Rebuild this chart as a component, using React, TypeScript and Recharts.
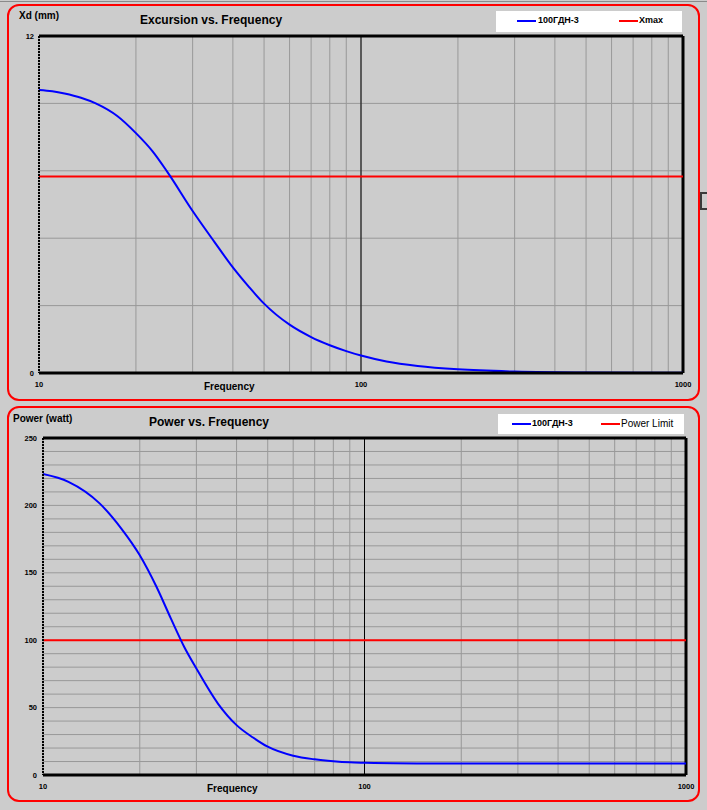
import { LineChart, Line, XAxis, YAxis, CartesianGrid, ReferenceLine } from "recharts";

// Excursion vs. Frequency
const excFreq = [10, 11, 12, 13.5, 15, 17.5, 20, 22.5, 25, 30, 35, 40, 45, 50, 60, 70, 80, 90, 100, 120, 150, 200, 300, 500, 1000];
const excursion = [10.08, 10.03, 9.95, 9.8, 9.6, 9.15, 8.54, 7.9, 7.17, 5.77, 4.68, 3.76, 3.05, 2.47, 1.72, 1.28, 0.99, 0.78, 0.62, 0.41, 0.25, 0.13, 0.05, 0.015, 0.005];
const xmaxFreq = [10, 1000];
const xmax = [7, 7];

// Power vs. Frequency
const powFreq = [10, 12, 15, 17.5, 20, 22.5, 25, 27.5, 30, 35, 40, 45, 50, 60, 70, 80, 90, 100, 150, 200, 300, 500, 1000];
const power = [223.3, 217.5, 201.5, 183, 163, 140, 116, 95, 79, 53, 37, 27.8, 21, 14.3, 11.6, 10.2, 9.4, 9.1, 8.6, 8.5, 8.5, 8.5, 8.5];
const limitFreq = [10, 1000];
const powerLimit = [100, 100];

// axes
const freqTicks = [10, 20, 30, 40, 50, 60, 70, 80, 90, 100, 200, 300, 400, 500, 600, 700, 800, 900, 1000];
const freqLabels = [10, 100, 1000];
const excTicks = [0, 2.4, 4.8, 7.2, 9.6, 12];
const excLabels = [0, 12];
const powTicks = [0, 10, 20, 30, 40, 50, 60, 70, 80, 90, 100, 110, 120, 130, 140, 150, 160, 170, 180, 190, 200, 210, 220, 230, 240, 250];
const powLabels = [0, 50, 100, 150, 200, 250];

const speaker = "100ГДН-3";

const toRows = (f: number[], v: number[]) => f.map((x, i) => ({ f: x, v: v[i] }));

const FONT = "'Liberation Sans', Arial, sans-serif";
const tickStyle = { fontSize: 7.5, fontWeight: 700, fill: "#000", fontFamily: FONT };
const only = (labels: number[]) => (v: number) => (labels.includes(v) ? String(v) : "");

function Text({ x, y, size, bold = true, children }: any) {
  return (
    <div
      style={{
        position: "absolute",
        left: x,
        top: y,
        fontSize: size,
        lineHeight: 1,
        fontWeight: bold ? 700 : 400,
        fontFamily: FONT,
        color: "#000",
        whiteSpace: "nowrap",
      }}
    >
      {children}
    </div>
  );
}

function LegendItem({ x, y, color, label, bold = true, textX }: any) {
  return (
    <>
      <div style={{ position: "absolute", left: x, top: y - 1, width: 19, height: 2, background: color }} />
      <Text x={textX} y={y - 5} size={bold ? 9 : 10} bold={bold}>
        {label}
      </Text>
    </>
  );
}

function Panel({ top, height }: { top: number; height: number }) {
  return (
    <div
      style={{
        position: "absolute",
        left: 7,
        top,
        width: 693,
        height,
        boxSizing: "border-box",
        border: "2px solid #ff0000",
        borderRadius: 12,
      }}
    />
  );
}

export default function App() {
  return (
    <div
      style={{
        position: "absolute",
        left: 0,
        top: 0,
        width: 707,
        height: 810,
        background: "#cccccc",
        overflow: "hidden",
      }}
    >
      <div style={{ position: "absolute", left: 0, top: 1, width: 707, height: 1, background: "#8a8a8a" }} />
      <Panel top={4} height={397} />
      <Panel top={406} height={396} />
      <div
        style={{
          position: "absolute",
          left: 700,
          top: 192,
          width: 14,
          height: 18,
          boxSizing: "border-box",
          border: "2px solid #3a3a3a",
        }}
      />

      {/* top chart */}
      <div style={{ position: "absolute", left: 0, top: 0 }}>
        <LineChart width={707} height={400} margin={{ top: 36, right: 24, left: 0, bottom: 0 }}>
          <CartesianGrid stroke="#999999" strokeWidth={1} />
          <XAxis
            dataKey="f"
            type="number"
            scale="log"
            domain={[10, 1000]}
            ticks={freqTicks}
            tickFormatter={only(freqLabels)}
            interval={0}
            height={27}
            tickLine={false}
            tickSize={7}
            tickMargin={2}
            tick={tickStyle}
            axisLine={{ stroke: "#000", strokeWidth: 3 }}
            allowDataOverflow
          />
          <YAxis
            type="number"
            domain={[0, 12]}
            ticks={excTicks}
            tickFormatter={only(excLabels)}
            interval={0}
            width={39}
            tickLine={false}
            tickSize={3}
            tickMargin={2}
            tick={tickStyle}
            axisLine={{ stroke: "#000", strokeWidth: 2, strokeDasharray: "2 1" }}
            allowDataOverflow
          />
          <ReferenceLine x={100} stroke="#000" strokeWidth={1} />
          <ReferenceLine y={12} stroke="#000" strokeWidth={3} />
          <ReferenceLine x={1000} stroke="#000" strokeWidth={3} />
          <Line
            data={toRows(xmaxFreq, xmax)}
            dataKey="v"
            name="Xmax"
            stroke="#ff0000"
            strokeWidth={2}
            dot={false}
            activeDot={false}
            isAnimationActive={false}
          />
          <Line
            data={toRows(excFreq, excursion)}
            dataKey="v"
            name={speaker}
            type="monotone"
            stroke="#0000ff"
            strokeWidth={2}
            dot={false}
            activeDot={false}
            isAnimationActive={false}
          />
        </LineChart>
      </div>

      {/* bottom chart */}
      <div style={{ position: "absolute", left: 0, top: 400 }}>
        <LineChart width={707} height={410} margin={{ top: 38, right: 21, left: 0, bottom: 0 }}>
          <CartesianGrid stroke="#999999" strokeWidth={1} />
          <XAxis
            dataKey="f"
            type="number"
            scale="log"
            domain={[10, 1000]}
            ticks={freqTicks}
            tickFormatter={only(freqLabels)}
            interval={0}
            height={35}
            tickLine={false}
            tickSize={7}
            tickMargin={2}
            tick={tickStyle}
            axisLine={{ stroke: "#000", strokeWidth: 3 }}
            allowDataOverflow
          />
          <YAxis
            type="number"
            domain={[0, 250]}
            ticks={powTicks}
            tickFormatter={only(powLabels)}
            interval={0}
            width={43}
            tickLine={false}
            tickSize={4}
            tickMargin={2}
            tick={tickStyle}
            axisLine={{ stroke: "#000", strokeWidth: 2, strokeDasharray: "2 1" }}
            allowDataOverflow
          />
          <ReferenceLine x={100} stroke="#000" strokeWidth={1} />
          <ReferenceLine y={250} stroke="#000" strokeWidth={3} />
          <ReferenceLine x={1000} stroke="#000" strokeWidth={3} />
          <Line
            data={toRows(limitFreq, powerLimit)}
            dataKey="v"
            name="Power Limit"
            stroke="#ff0000"
            strokeWidth={2}
            dot={false}
            activeDot={false}
            isAnimationActive={false}
          />
          <Line
            data={toRows(powFreq, power)}
            dataKey="v"
            name={speaker}
            type="monotone"
            stroke="#0000ff"
            strokeWidth={2}
            dot={false}
            activeDot={false}
            isAnimationActive={false}
          />
        </LineChart>
      </div>

      {/* titles and labels */}
      <Text x={19} y={11} size={10}>Xd (mm)</Text>
      <Text x={140} y={13.5} size={12}>Excursion vs. Frequency</Text>
      <Text x={204} y={381.5} size={10}>Frequency</Text>
      <Text x={13} y={414} size={10}>Power (watt)</Text>
      <Text x={149} y={416} size={12}>Power vs. Frequency</Text>
      <Text x={207} y={784} size={10}>Frequency</Text>

      {/* legends */}
      <div style={{ position: "absolute", left: 496, top: 11, width: 186, height: 21, background: "#fff" }} />
      <LegendItem x={517} y={21} color="#0000ff" label={speaker} textX={538} />
      <LegendItem x={619} y={21} color="#ff0000" label="Xmax" textX={639} />
      <div style={{ position: "absolute", left: 498, top: 414, width: 186, height: 20, background: "#fff" }} />
      <LegendItem x={512} y={424} color="#0000ff" label={speaker} textX={532} />
      <LegendItem x={601} y={424} color="#ff0000" label="Power Limit" textX={621} bold={false} />
    </div>
  );
}
